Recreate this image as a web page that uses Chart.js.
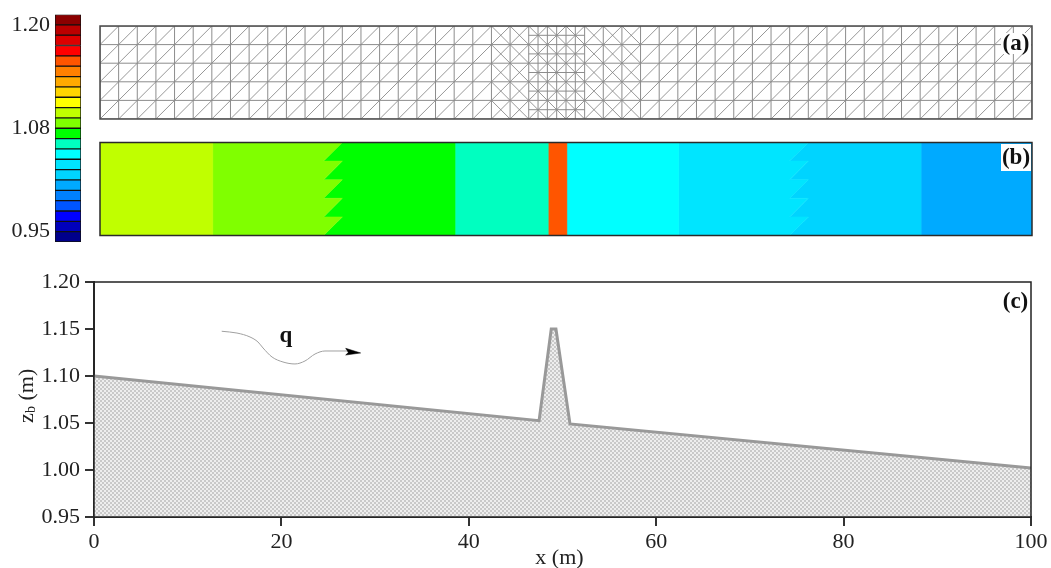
<!DOCTYPE html>
<html><head><meta charset="utf-8">
<style>
html,body{margin:0;padding:0;background:#fff;width:1051px;height:568px;overflow:hidden}
canvas{position:absolute;left:0;top:0}
</style>
<script src="https://cdn.jsdelivr.net/npm/chart.js@4"></script>
</head><body>
<canvas id="ca" width="1051" height="568"></canvas>
<canvas id="cb" width="1051" height="568"></canvas>
<canvas id="cbar" width="1051" height="568"></canvas>
<canvas id="cc" width="1051" height="568"></canvas>
<script>
// ---- colour bar
const levels = [1.2125,1.2,1.1875,1.175,1.1625,1.15,1.1375,1.125,1.1125,1.1,1.0875,1.075,1.0625,1.05,1.0375,1.025,1.0125,1.0,0.9875,0.975,0.9625,0.95,0.9375];
const levelColors = ['#8b0000','#bb0000','#dd0000','#ff0000','#ff5500','#ff8000','#ffaa00','#ffd500','#ffff00','#c0ff00','#80ff00','#00ff00','#00ffc0','#00ffff','#00e5ff','#00d4ff','#00aaff','#0080ff','#0055ff','#0000ff','#0000bb','#00008b'];
const barTickValues = [1.2,1.075,0.95];
const barTickLabels = ['1.20','1.08','0.95'];
// ---- mesh (panel a)
const meshColumns = [0,2,4,6,8,10,12,14,16,18,20,22,24,26,28,30,32,34,36,38,40,42,44,46,48,50,52,54,56,58,60,62,64,66,68,70,72,74,76,78,80,82,84,86,88,90,92,94,96,98,100];
const meshRows = [0,2,4,6,8,10];
const fineColumns = [47,49,51];
const fineRows = [1,3,5,7,9];
const fineSpan = [46,52];
const crossSpan = [42,58];
// ---- water level zones (panel b)
const zoneBounds = [0,12.1,38.1,48.1,50.1,62.1,88.1,100];
const zoneColors = ['#c0ff00','#80ff00','#00ff00','#00ffc0','#ff5500','#00ffff','#00e5ff','#00d4ff','#00aaff'];
const zoneSawY = [10,8,8,6,6,4,4,2,2,0];
const sawA = [26,24,26,24,26,24,26,24,26,24];
const sawB = [76,74,76,74,76,74,76,74,76,74];
// ---- bed profile (panel c)
const bedX = [0,47.5,48.8,49.3,50.8,100];
const bedZ = [1.10,1.0525,1.15,1.15,1.0490,1.002];
const flowX = [13.63,15.26,16.65,17.5,18.04,19.0,20.17,21.45,22.52,23.59,24.65,26.79,27.0];
const flowZ = [1.1476,1.1457,1.1415,1.1362,1.1298,1.1202,1.1149,1.1128,1.1160,1.1234,1.1266,1.1266,1.1266];
const arrowX = [28.46,26.86,27.14,26.86,28.46];
const arrowZ = [1.1245,1.1295,1.1249,1.1223,1.1245];
const xTicks = [0,20,40,60,80,100];
const zTicks = [0.95,1.00,1.05,1.10,1.15,1.20];

const SERIF = '"Liberation Serif", serif';
Chart.defaults.animation = false;
Chart.defaults.responsive = false;
Chart.defaults.font.family = SERIF;
Chart.defaults.plugins.legend.display = false;
Chart.defaults.plugins.tooltip.enabled = false;

const pts = (xs, ys) => xs.map((x,i) => ({x, y: ys[i]}));
const BREAK = {x: NaN, y: NaN};

function frame(color, width){
  return {id:'frame', afterDraw(c){
    const a=c.chartArea, g=c.ctx;
    g.save(); g.strokeStyle=color; g.lineWidth=width;
    g.strokeRect(a.left,a.top,a.right-a.left,a.bottom-a.top); g.restore();
  }};
}
function panelLabel(text, box, cx, cy){
  return {id:'panelLabel', afterDraw(c){
    const g=c.ctx; g.save();
    if(box){ g.fillStyle='#fff'; g.fillRect(box[0],box[1],box[2],box[3]); }
    g.fillStyle='#111'; g.font='bold 23px '+SERIF; g.textAlign='center'; g.textBaseline='middle';
    g.fillText(text,cx,cy); g.restore();
  }};
}
const hiddenAxes = (xmin,xmax,ymin,ymax)=>({
  x:{type:'linear',display:false,min:xmin,max:xmax},
  y:{type:'linear',display:false,min:ymin,max:ymax}
});

// ---------- panel a
const meshLines=[], meshDiag=[];
const rowMin=meshRows[0], rowMax=meshRows[meshRows.length-1];
meshColumns.forEach(x=>meshLines.push({x,y:rowMin},{x,y:rowMax},BREAK));
fineColumns.forEach(x=>meshLines.push({x,y:rowMin},{x,y:rowMax},BREAK));
meshRows.forEach(y=>meshLines.push({x:meshColumns[0],y},{x:meshColumns[meshColumns.length-1],y},BREAK));
fineRows.forEach(y=>meshLines.push({x:fineSpan[0],y},{x:fineSpan[1],y},BREAK));
for(let i=0;i<meshColumns.length-1;i++){
  for(let j=0;j<meshRows.length-1;j++){
    const x0=meshColumns[i],x1=meshColumns[i+1],y0=meshRows[j],y1=meshRows[j+1];
    meshDiag.push({x:x0,y:y0},{x:x1,y:y1},BREAK);
    if(x0>=crossSpan[0]&&x1<=crossSpan[1]) meshDiag.push({x:x0,y:y1},{x:x1,y:y0},BREAK);
  }
}
const lineDs=(data,color,w)=>({type:'scatter',data,showLine:true,pointRadius:0,borderColor:color,borderWidth:w,spanGaps:false,tension:0});
new Chart(document.getElementById('ca'),{
  type:'scatter',
  data:{datasets:[lineDs(meshLines,'#8c8c8c',1),lineDs(meshDiag,'#7c7c7c',0.8)]},
  options:{layout:{padding:{left:100,right:19,top:26,bottom:449}},scales:hiddenAxes(0,100,0,10)},
  plugins:[frame('#4a4a4a',1.5),panelLabel('(a)',[1001,33,30,21],1016,44)]
});

// ---------- panel b
const zoneEdges=[
  zoneSawY.map((y,i)=>({x:zoneBounds[0],y})),
  zoneSawY.map((y,i)=>({x:zoneBounds[1],y})),
  pts(sawA,zoneSawY),
  zoneSawY.map((y)=>({x:zoneBounds[2],y})),
  zoneSawY.map((y)=>({x:zoneBounds[3],y})),
  zoneSawY.map((y)=>({x:zoneBounds[4],y})),
  zoneSawY.map((y)=>({x:zoneBounds[5],y})),
  pts(sawB,zoneSawY),
  zoneSawY.map((y)=>({x:zoneBounds[6],y})),
  zoneSawY.map((y)=>({x:zoneBounds[7],y}))
];
const zoneDatasets=zoneColors.map((color,i)=>{
  const left=zoneEdges[i], right=zoneEdges[i+1].slice().reverse();
  const poly=left.concat(right,[left[0]]);
  return {type:'scatter',data:poly,showLine:true,pointRadius:0,borderWidth:0.5,borderColor:color,backgroundColor:color,fill:'shape',tension:0};
});
new Chart(document.getElementById('cb'),{
  type:'scatter',
  data:{datasets:zoneDatasets},
  options:{layout:{padding:{left:100,right:19,top:142.5,bottom:332.5}},scales:hiddenAxes(0,100,0,10)},
  plugins:[frame('#2a2a2a',1.5),panelLabel('(b)',[1001,144,30,27],1016,158)]
});

// ---------- colour bar
new Chart(document.getElementById('cbar'),{
  type:'bar',
  data:{labels:['level'],datasets:levelColors.map((color,i)=>({
    data:[[levels[i+1],levels[i]]],backgroundColor:color,borderColor:'#111',borderWidth:1,
    borderSkipped:false,barPercentage:1,categoryPercentage:1,grouped:false
  }))},
  options:{
    layout:{padding:{left:0,right:970,top:14.5,bottom:326}},
    scales:{
      x:{display:false,offset:true},
      y:{type:'linear',min:levels[levels.length-1],max:levels[0],
        afterFit(s){s.width=55;s.paddingTop=0;s.paddingBottom=0},
        afterBuildTicks(s){s.ticks=barTickValues.map(value=>({value}))},
        border:{display:false},
        grid:{display:false,drawTicks:false},
        ticks:{autoSkip:false,padding:5,color:'#222',font:{size:22},
          callback:(v)=>barTickLabels[barTickValues.indexOf(v)]}
      }
    }
  }
});

// ---------- panel c
const tile=document.createElement('canvas'); tile.width=4; tile.height=4;
{ const t=tile.getContext('2d'); t.fillStyle='#eeeeee'; t.fillRect(0,0,4,4); t.fillStyle='#c9c9c9';
  t.fillRect(0,0,2,2); t.fillRect(2,2,2,2); }
const hatch=document.getElementById('cc').getContext('2d').createPattern(tile,'repeat');

const texts={id:'texts',afterDraw(c){
  const g=c.ctx; g.save(); g.fillStyle='#222'; g.textBaseline='alphabetic';
  g.font='22px '+SERIF; g.textAlign='center';
  g.fillText('x (m)',559.5,564);
  g.font='bold 23px '+SERIF; g.fillStyle='#111';
  g.fillText('q',286,341.5);
  g.fillStyle='#222';
  g.translate(33,395); g.rotate(-Math.PI/2); g.textAlign='left';
  g.font='22px '+SERIF; g.fillText('z',-28,0);
  g.font='14px '+SERIF; g.fillText('b',-18,2);
  g.font='22px '+SERIF; g.fillText(' (m)',-11,0);
  g.restore();
}};
new Chart(document.getElementById('cc'),{
  type:'scatter',
  data:{datasets:[
    {data:pts(bedX,bedZ),showLine:true,pointRadius:0,borderColor:'#999999',borderWidth:3,fill:'start',backgroundColor:hatch,tension:0,borderJoinStyle:'miter'},
    {data:pts(flowX,flowZ),showLine:true,pointRadius:0,borderColor:'#a0a0a0',borderWidth:1,cubicInterpolationMode:'monotone',fill:false},
    {data:pts(arrowX,arrowZ),showLine:true,pointRadius:0,borderColor:'#000',borderWidth:0.5,backgroundColor:'#000',fill:'shape',tension:0}
  ]},
  options:{
    layout:{padding:{left:0,right:20,top:282,bottom:0}},
    scales:{
      x:{type:'linear',min:0,max:100,
        afterFit(s){s.height=51},
        afterBuildTicks(s){s.ticks=xTicks.map(value=>({value}))},
        border:{color:'#333',width:2},
        grid:{drawOnChartArea:false,color:'#333',lineWidth:2,tickLength:9},
        ticks:{maxRotation:0,autoSkip:false,color:'#222',padding:3,font:{size:22}}
      },
      y:{type:'linear',min:0.95,max:1.2,
        afterFit(s){s.width=94},
        afterBuildTicks(s){s.ticks=zTicks.map(value=>({value}))},
        border:{color:'#333',width:2},
        grid:{drawOnChartArea:false,color:'#333',lineWidth:2,tickLength:9},
        ticks:{autoSkip:false,color:'#222',padding:5,font:{size:22},callback:v=>v.toFixed(2)}
      }
    }
  },
  plugins:[frame('#222',1.5),panelLabel('(c)',null,1015.5,302),texts]
});
</script>
</body></html>
